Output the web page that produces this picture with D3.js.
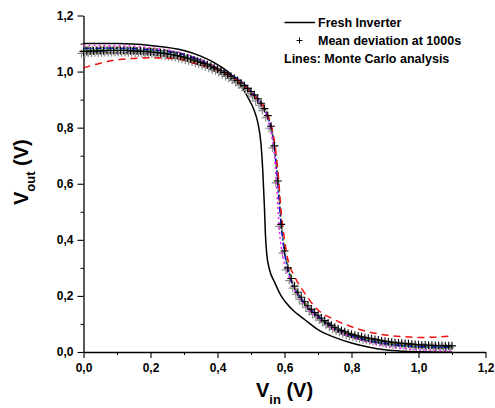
<!DOCTYPE html>
<html><head><meta charset="utf-8">
<script src="https://cdn.jsdelivr.net/npm/d3@7"></script>
<style>
body{margin:0;background:#fff;}
svg text{font-family:"Liberation Sans",Arial,sans-serif;font-weight:bold;fill:#000;}
</style></head>
<body><svg id="c" width="495" height="408"></svg>
<script>
// ---- data ----
const xTicks = [0, 0.2, 0.4, 0.6, 0.8, 1.0, 1.2];
const yTicks = [0, 0.2, 0.4, 0.6, 0.8, 1.0, 1.2];
const minorTicks = [0.1, 0.3, 0.5, 0.7, 0.9, 1.1];

const freshVin  = [0,0.1,0.2,0.3,0.35,0.4,0.44,0.47,0.49,0.51,0.52,0.53,0.535,0.54,0.543,0.547,0.555,0.57,0.59,0.62,0.66,0.7,0.75,0.8,0.85,0.9,0.95,1.0,1.1];
const freshVout = [1.10,1.10,1.093,1.075,1.055,1.025,0.99,0.95,0.91,0.86,0.82,0.74,0.65,0.52,0.42,0.35,0.295,0.25,0.2,0.155,0.116,0.08,0.052,0.032,0.018,0.008,0.003,0.001,0.0];

// Mean deviation at 1000s, Vin = 0.00 ... 1.10 in 0.01 steps
const meanVin = d3.range(0, 111).map(i => i / 100);
const meanVout = [
1.072,1.072,1.073,1.073,1.074,1.074,1.074,1.075,1.075,1.075,
1.075,1.075,1.075,1.075,1.074,1.074,1.073,1.073,1.072,1.071,
1.070,1.069,1.068,1.066,1.065,1.063,1.061,1.059,1.057,1.054,
1.051,1.048,1.045,1.041,1.037,1.033,1.029,1.024,1.019,1.014,
1.009,1.003,0.997,0.990,0.983,0.976,0.968,0.959,0.950,0.940,
0.929,0.917,0.903,0.887,0.868,0.843,0.805,0.735,0.610,0.455,
0.360,0.300,0.262,0.235,0.213,0.195,0.179,0.165,0.152,0.141,
0.131,0.121,0.112,0.103,0.095,0.088,0.082,0.077,0.072,0.067,
0.063,0.060,0.057,0.054,0.051,0.049,0.047,0.045,0.043,0.040,
0.038,0.036,0.035,0.033,0.032,0.031,0.030,0.029,0.028,0.027,
0.026,0.025,0.025,0.024,0.024,0.023,0.023,0.023,0.022,0.022,0.022];

// Monte Carlo lines
const mcRedVin  = [0,0.05,0.1,0.2,0.28,0.33,0.4,0.5,0.55,0.56,0.57,0.58,0.59,0.6,0.61,0.63,0.66,0.7,0.75,0.8,0.85,0.9,0.95,1.0,1.05,1.1];
const mcRedVout = [1.013,1.03,1.042,1.049,1.046,1.03,1.005,0.925,0.845,0.81,0.75,0.65,0.5,0.4,0.33,0.27,0.21,0.15,0.115,0.09,0.072,0.061,0.055,0.052,0.053,0.057];
const mcBlueVin  = [0,0.1,0.2,0.3,0.4,0.5,0.55,0.56,0.57,0.58,0.59,0.6,0.62,0.65,0.7,0.75,0.8,0.85,0.9,0.95,1.0,1.1];
const mcBlueVout = [1.083,1.083,1.078,1.06,1.012,0.93,0.84,0.80,0.73,0.60,0.45,0.355,0.255,0.19,0.128,0.086,0.058,0.041,0.030,0.023,0.019,0.017];
const mcMagVin  = [0,0.1,0.2,0.3,0.4,0.5,0.55,0.56,0.57,0.575,0.58,0.585,0.595,0.61,0.63,0.66,0.7,0.75,0.8,0.85,0.9,0.95,1.0,1.1];
const mcMagVout = [1.093,1.092,1.085,1.064,1.013,0.925,0.83,0.78,0.70,0.62,0.52,0.43,0.34,0.28,0.225,0.17,0.12,0.08,0.053,0.035,0.022,0.013,0.008,0.005];
const mcGreenVin  = [0,0.2,0.3,0.4,0.5,0.55,0.57,0.58,0.59,0.6,0.62,0.65,0.7,0.8,0.9,1.0,1.1];
const mcGreenVout = [1.08,1.076,1.058,1.01,0.928,0.835,0.72,0.6,0.46,0.36,0.26,0.19,0.125,0.058,0.03,0.018,0.015];
const mcOliveVin  = [0,0.2,0.3,0.4,0.5,0.55,0.57,0.58,0.59,0.6,0.62,0.65,0.7,0.8,0.9,1.0,1.1];
const mcOliveVout = [1.088,1.082,1.062,1.012,0.93,0.84,0.735,0.62,0.47,0.37,0.265,0.195,0.13,0.062,0.035,0.022,0.02];

// ---- chart ----
const svg = d3.select("#c");
const x = d3.scaleLinear().domain([0, 1.2]).range([83.5, 485.5]);
const y = d3.scaleLinear().domain([0, 1.2]).range([352, 15.5]);
const fmt = d => d3.format(".1f")(d).replace(".", ",");

// minor ticks
svg.append("g").attr("transform","translate(83.5,0)")
  .call(d3.axisLeft(y).tickValues(minorTicks).tickSize(3).tickFormat(""))
  .call(g => g.select(".domain").remove())
  .selectAll("line").attr("stroke","#000").attr("stroke-width",1);
svg.append("g").attr("transform","translate(0,352)")
  .call(d3.axisBottom(x).tickValues(minorTicks).tickSize(3).tickFormat(""))
  .call(g => g.select(".domain").remove())
  .selectAll("line").attr("stroke","#000").attr("stroke-width",1);

const yAxis = svg.append("g").attr("transform","translate(83.5,0)")
  .call(d3.axisLeft(y).tickValues(yTicks).tickSize(6).tickSizeOuter(0).tickPadding(4).tickFormat(fmt));
const xAxis = svg.append("g").attr("transform","translate(0,352)")
  .call(d3.axisBottom(x).tickValues(xTicks).tickSize(6).tickSizeOuter(0).tickPadding(5).tickFormat(fmt));
[yAxis, xAxis].forEach(a => {
  a.select(".domain").attr("stroke","#000").attr("stroke-width",1.3);
  a.selectAll(".tick line").attr("stroke","#000").attr("stroke-width",1.1);
  a.selectAll(".tick text").style("font-family","'Liberation Sans',Arial,sans-serif")
    .style("font-weight","bold").style("font-size","12px").attr("fill","#000");
});

const line = d3.line().x(d => x(d[0])).y(d => y(d[1])).curve(d3.curveMonotoneX);
const zip = (a, b) => a.map((v, i) => [v, b[i]]);

// fresh inverter
svg.append("path").datum(zip(freshVin, freshVout)).attr("d", line)
  .attr("fill","none").attr("stroke","#000").attr("stroke-width",1.5);

// markers shadow
const mean = zip(meanVin, meanVout);
const plus = d3.symbol().type(d3.symbolCross);
function plusPath(s){ return `M${-s},0H${s}M0,${-s}V${s}`; }
svg.append("g").selectAll("path").data(mean).join("path")
  .attr("transform", d => `translate(${x(d[0]) - 2},${y(d[1]) + 2})`)
  .attr("d", plusPath(4)).attr("stroke","#8a8a8a").attr("stroke-width",1.2).attr("fill","none");

// MC lines
const mc = [
  {d: zip(mcOliveVin, mcOliveVout), c: "#8c8c2a", dash: "6,2,2,2,2,2"},
  {d: zip(mcGreenVin, mcGreenVout), c: "#22b022", dash: "3,3"},
  {d: zip(mcBlueVin, mcBlueVout), c: "#1010e0", dash: "6,2,2,2"},
  {d: zip(mcMagVin, mcMagVout), c: "#ee22ee", dash: "2,3"},
  {d: zip(mcRedVin, mcRedVout), c: "#ee1111", dash: "7,5"}
];
mc.forEach(m => svg.append("path").datum(m.d).attr("d", line)
  .attr("fill","none").attr("stroke", m.c).attr("stroke-width",1.5).attr("stroke-dasharray", m.dash));

// black markers
svg.append("g").selectAll("path").data(mean).join("path")
  .attr("transform", d => `translate(${x(d[0])},${y(d[1])})`)
  .attr("d", plusPath(4)).attr("stroke","#000").attr("stroke-width",1.1).attr("fill","none");

// legend
const lg = svg.append("g");
lg.append("line").attr("x1",284.5).attr("x2",315).attr("y1",22.5).attr("y2",22.5).attr("stroke","#000").attr("stroke-width",1.5);
lg.append("text").attr("x",318).attr("y",27).style("font-size","12.5px").text("Fresh Inverter");
lg.append("path").attr("transform","translate(299.5,40.5)").attr("d",plusPath(3)).attr("stroke","#000").attr("stroke-width",1);
lg.append("text").attr("x",318).attr("y",45).style("font-size","12.5px").text("Mean deviation at 1000s");
lg.append("text").attr("x",284).attr("y",63).style("font-size","12.5px").text("Lines: Monte Carlo analysis");

// axis titles
const xt = svg.append("text").attr("x",256).attr("y",397).style("font-size","20px");
xt.append("tspan").text("V");
xt.append("tspan").attr("dy",7).style("font-size","13px").text("in");
xt.append("tspan").attr("dy",-7).text(" (V)");

const yt = svg.append("text").attr("transform","translate(28,205) rotate(-90)").style("font-size","20px");
yt.append("tspan").text("V");
yt.append("tspan").attr("dy",7).style("font-size","13px").text("out");
yt.append("tspan").attr("dy",-7).text(" (V)");
</script></body></html>
